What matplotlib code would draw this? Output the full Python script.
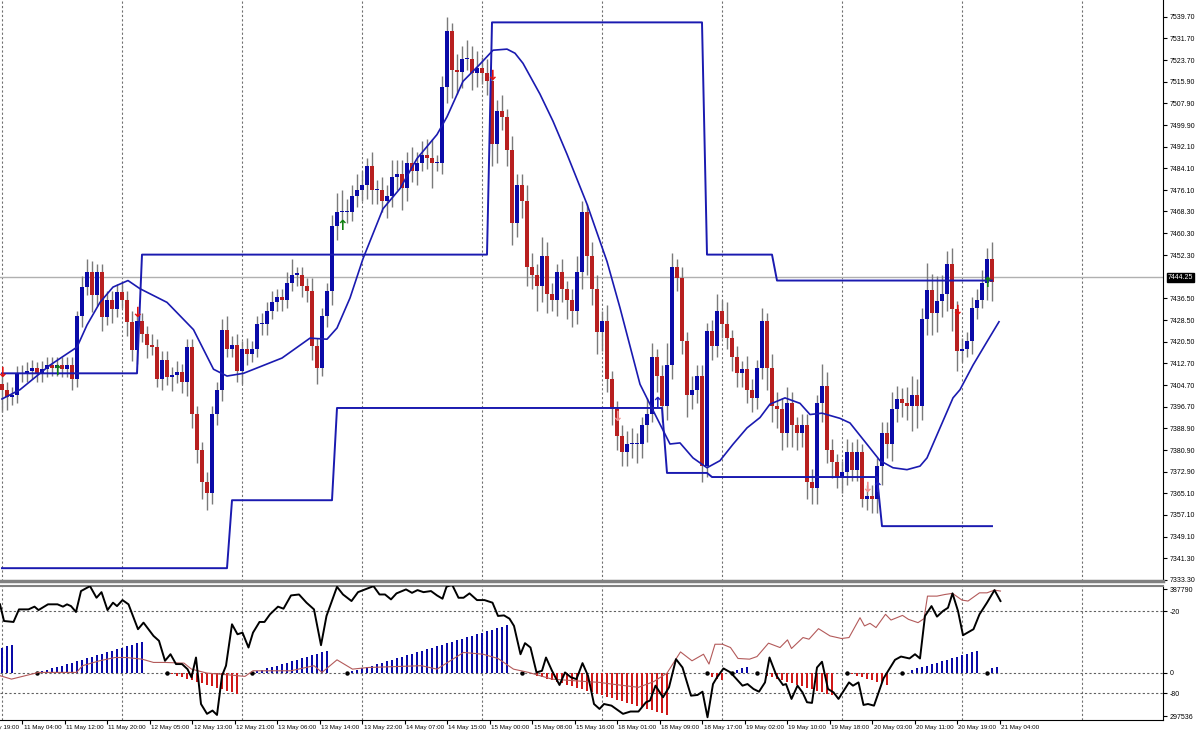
import numpy as np
import matplotlib
matplotlib.use("Agg")
import matplotlib.pyplot as plt
import matplotlib.transforms as mtransforms

plt.rcParams["font.family"] = ["Liberation Sans", "DejaVu Sans"]

# ---- price data (hourly bars, index 0..198) ----
closes = [
    7403, 7400.5, 7401, 7408.7, 7409, 7410, 7411, 7409, 7410.5, 7412,
    7411, 7412, 7410.5, 7412, 7407, 7430, 7440.6, 7446, 7437.6, 7446,
    7429.6, 7436, 7432.6, 7438.8, 7436, 7427.8, 7417.5, 7428, 7423.5, 7419.5,
    7418.7, 7407, 7414, 7407.6, 7408.4, 7409.5, 7405.8, 7418.6, 7394, 7381,
    7369, 7365, 7394, 7403, 7425, 7418, 7419.5, 7410, 7418, 7416,
    7418, 7427, 7427, 7432, 7435, 7437, 7436, 7442, 7445, 7445,
    7441, 7439, 7419, 7411, 7430, 7439, 7463, 7468, 7468, 7468,
    7474, 7476, 7478, 7485, 7476, 7476, 7472, 7474, 7481, 7482,
    7477, 7486, 7483, 7486, 7489, 7488, 7486,
    7486, 7514, 7534.5, 7520, 7519.5, 7524, 7524, 7519, 7521, 7519,
    7516, 7493, 7505, 7503, 7491, 7464, 7478, 7472, 7448,
    7445, 7441, 7452, 7438, 7436, 7446, 7440, 7436, 7432, 7446,
    7468, 7452, 7440, 7424,
    7428, 7407, 7396, 7386, 7380, 7383, 7383, 7383, 7390, 7394,
    7415, 7408, 7397, 7412, 7448, 7444, 7421, 7401, 7403, 7408,
    7375, 7424.5, 7419, 7432, 7427, 7422, 7415, 7409, 7410.5, 7403,
    7400, 7411, 7428, 7411, 7397, 7396, 7387, 7398,
    7390, 7387, 7390,
    7369, 7367, 7398, 7404.5, 7381, 7376.5, 7371, 7373, 7380, 7373.5,
    7380, 7363, 7364, 7363, 7375, 7387, 7383, 7396, 7399.5, 7398,
    7397, 7401, 7397, 7429, 7439.5, 7431, 7435.5, 7438, 7449, 7432.5,
    7417, 7418, 7421, 7433, 7436, 7442, 7451, 7442.5,
]
first_open = 7405
wick_up = [
    4, 3, 3, 3, 3, 3, 3, 2, 3, 3, 3, 3, 3, 3, 3, 2, 4, 5, 4, 3,
    3, 3, 3, 3, 4, 3, 4, 3, 3, 3, 4, 3, 3, 3, 3, 4, 3, 3, 3, 3,
    3, 4, 3, 3, 4, 5, 3, 4, 3, 4, 3, 3, 4, 3, 4, 3, 3, 4, 6, 3,
    3, 3, 5, 3, 3, 3, 4, 7, 8, 5, 4, 6, 5, 3, 5, 4, 5, 4, 6, 5,
    5, 4, 6, 4, 5, 6, 7, 3, 4, 5, 3, 6, 5, 7, 5, 6, 4, 5, 3, 4,
    6, 3, 5, 4, 4, 6, 5, 4, 7, 5, 4, 3, 5, 3, 4, 6, 4, 3, 5, 5,
    4, 6, 3, 3, 4, 5, 6, 4, 3, 6, 5, 3, 4, 8, 5, 3, 4, 3, 5, 4,
    4, 3, 4, 6, 4, 8, 3, 4, 3, 5, 4, 3, 5, 3, 5, 5, 4, 6, 4, 3,
    4, 4, 5, 3, 8, 5, 4, 3, 4, 5, 4, 5, 3, 4, 4, 3, 4, 4, 6, 5,
    4, 6, 7, 6, 4, 10, 6, 9, 7, 5, 6, 3, 4, 3, 4, 4, 5, 4, 6,
]
wick_dn = [
    8, 5, 3, 3, 3, 3, 3, 3, 3, 3, 3, 3, 3, 3, 4, 3, 4, 3, 6, 4,
    5, 3, 5, 3, 3, 5, 4, 5, 3, 5, 3, 3, 4, 3, 5, 3, 4, 5, 5, 5,
    6, 6, 4, 4, 4, 3, 3, 4, 5, 4, 3, 3, 4, 4, 3, 3, 4, 3, 3, 4,
    4, 4, 5, 6, 3, 4, 5, 5, 4, 4, 3, 4, 4, 5, 5, 5, 4, 6, 4, 5,
    8, 5, 4, 5, 3, 4, 9, 3, 4, 6, 10, 8, 6, 4, 6, 5, 4, 5, 8, 7,
    5, 6, 8, 5, 6, 7, 5, 9, 6, 7, 4, 6, 5, 7, 6, 5, 6, 7, 6, 8,
    7, 5, 6, 5, 5, 5, 5, 7, 5, 6, 3, 6, 6, 5, 5, 5, 5, 8, 5, 5,
    6, 4, 5, 4, 5, 4, 5, 5, 5, 5, 5, 4, 4, 8, 6, 7, 6, 5, 8, 6,
    5, 6, 6, 6, 7, 5, 6, 4, 6, 5, 4, 4, 3, 4, 5, 5, 7, 5, 6, 5,
    5, 5, 9, 8, 5, 6, 8, 7, 6, 6, 8, 7, 4, 3, 5, 4, 3, 6, 7,
]

# moving average line (bar, price)
ma_bar = [0, 3.6, 9.6, 15, 17, 19.6, 22.2, 25.2, 27.6, 33, 38.3, 42.3, 45, 48.3, 56, 61.6, 65,
          67, 69.6, 72.2, 76.2, 79.6, 83, 87, 89, 92.2, 95.6, 98.2, 101, 102.6, 104.2, 107.6,
          110.2, 113, 117, 121, 123.6, 127.6, 130.6, 133.6, 135.6, 138.2, 141, 143.6, 146.2,
          149, 151.6, 153.6, 156.6, 159.6, 161.6, 164, 167.6, 169.6, 173, 175.6, 178.2, 181,
          183.6, 185, 187.6, 190.2, 191.6, 194.2, 197, 199.4]
ma_val = [7399.6, 7403, 7412, 7418.6, 7426.7, 7435, 7440.6, 7443, 7440, 7435, 7425, 7410.5,
          7408, 7409, 7414.6, 7421.9, 7421.5, 7425.6, 7436.6, 7451, 7469.3, 7476.7, 7487.7,
          7496.5, 7503, 7516, 7522.3, 7527.4, 7527.8, 7526.3, 7522.6, 7511.3, 7501.4, 7489.3,
          7471, 7450, 7433, 7405, 7394, 7383.1, 7383.5, 7378, 7374.4, 7377, 7383, 7389, 7392.8,
          7397.7, 7400, 7398, 7393.9, 7394.4, 7392.5, 7390.8, 7383, 7377, 7374.4, 7373.7, 7375,
          7378, 7389, 7400, 7403, 7412, 7420.6, 7427.9]

# channel step levels: (first bar, last bar, level)
upper_steps = [(0, 27, 7409), (28, 97, 7452.5), (98, 140, 7537.6), (141, 154, 7452.5), (155, 198, 7443)]
lower_steps = [(0, 45, 7337.6), (46, 66, 7362.5), (67, 132, 7396.3), (133, 141, 7372.5),
               (142, 175, 7371), (176, 198, 7353)]

# signal arrows: (bar, price, symbol, colour)
arrows = [(0, 7409, "↓", "#e01010"), (27, 7431, "↓", "#e01010"), (98, 7518, "↓", "#e01010"),
          (123, 7393, "↓", "#f09090"), (173, 7367, "↓", "#f09090"), (191, 7432, "↓", "#e01010"),
          (11, 7410, "↑", "#108010"), (68, 7463, "↑", "#108010"), (197, 7442, "↑", "#108010"),
          (131, 7398, "↑", "#2020c0"), (175, 7367, "↑", "#2020c0")]

price_ticks = [7539.70, 7531.70, 7523.70, 7515.90, 7507.90, 7499.90, 7492.10, 7484.10, 7476.10,
               7468.30, 7460.30, 7452.30, 7436.50, 7428.50, 7420.50, 7412.70, 7404.70, 7396.70,
               7388.90, 7380.90, 7372.90, 7365.10, 7357.10, 7349.10, 7341.30, 7333.30]
last_price = 7444.25

# ---- oscillator panel ----
wpr_bar = [-0.4, 0.4, 2.3, 3.4, 5.3, 6.5, 7.3, 9.2, 11.1, 12.2, 13.0, 13.8, 14.8, 15.8, 17.6, 18.9,
           19.9, 21.1, 22.2, 23.0, 24.1, 25.3, 27.2, 28.3, 30.3, 31.4, 32.6, 33.7, 34.8, 36.0,
           37.1, 37.9, 38.8, 39.8, 41.0, 42.1, 43.0, 44.0, 44.8, 46.0, 47.1, 48.1, 49.3, 50.2,
           51.5, 52.5, 53.6, 55.2, 56.3, 57.8, 59.4, 60.9, 62.4, 63.8, 64.9, 67.0, 68.2, 69.9,
           71.2, 74.3, 75.5, 76.6, 77.8, 78.9, 80.8, 82.0, 83.1, 84.3, 85.8, 87.0, 88.1, 88.9,
           90.0, 91.3, 92.3, 93.5, 95.0, 96.5, 98.1, 99.2, 100.4, 101.5, 102.4, 103.7, 104.6,
           105.7, 106.9, 108.0, 108.8, 110.0, 111.5, 112.6, 113.8, 114.9, 116.1, 117.2, 118.4,
           119.5, 120.4, 121.9, 124.2, 125.7, 127.3, 128.8, 129.6, 130.7, 132.2, 133.4, 134.8,
           136.1, 137.8, 139.1, 140.1, 141.1, 142.2, 143.0, 144.3, 145.7, 148.1, 149.1, 150.3,
           151.4, 152.6, 153.5, 154.9, 156.2, 156.8, 157.9, 159.1, 160.1, 161.0, 162.0, 163.0,
           164.0, 165.2, 166.3, 167.3, 169.4, 170.2, 171.3, 172.3, 173.2, 174.4, 176.3, 178.6,
           179.8, 181.5, 182.6, 183.6, 184.6, 185.9, 187.0, 188.2, 189.2, 190.1, 191.2, 192.2,
           194.3, 195.5, 197.0, 198.5, 199.7]
wpr_val = [-15.1, -27.3, -28.0, -18.8, -18.8, -16.8, -19.3, -15.1, -15.1, -16.8, -15.1, -16.4,
           -20.7, -5.4, -1.8, -10.3, -6.2, -19.3, -13.9, -16.4, -12.0, -15.1, -33.3, -28.5,
           -38.2, -41.8, -56.4, -51.6, -58.8, -58.8, -62.5, -68.5, -54.0, -88.0, -95.2, -92.8,
           -96.0, -67.3, -60.0, -29.7, -37.0, -35.8, -46.7, -35.8, -28.0, -28.0, -22.4, -16.8,
           -18.3, -8.6, -7.9, -13.9, -18.8, -45.0, -23.6, -2.3, -7.9, -12.7, -6.2, -1.8, -7.9,
           -7.9, -11.5, -7.1, -4.2, -6.7, -4.7, -6.2, -5.4, -8.6, -11.0, -2.3, -0.6, -10.3,
           -10.3, -7.1, -12.0, -12.0, -13.9, -23.6, -23.2, -25.6, -30.9, -51.6, -43.5, -46.7,
           -64.9, -63.7, -54.0, -63.7, -74.1, -64.9, -68.5, -69.8, -58.1, -67.3, -88.0, -91.6,
           -88.0, -89.2, -95.2, -93.5, -93.5, -86.7, -85.5, -74.6, -83.1, -75.8, -55.2, -61.3,
           -81.9, -81.4, -79.0, -97.7, -73.4, -68.5, -62.0, -64.9, -74.6, -73.4, -77.0, -79.0,
           -72.2, -54.0, -67.3, -74.1, -73.4, -84.3, -74.6, -79.5, -86.7, -87.2, -61.3, -57.1,
           -77.0, -79.5, -84.3, -72.2, -74.6, -72.2, -88.7, -88.0, -89.2, -69.3, -55.7, -53.3,
           -54.7, -51.6, -54.7, -23.6, -16.4, -24.1, -20.0, -17.6, -7.1, -20.0, -37.7, -33.3,
           -22.4, -13.9, -4.7, -12.7]

sig_bar = [-0.4, 1.9, 7.3, 14.9, 16.1, 19.5, 22.6, 24.9, 28, 30.3, 32.6, 36.4, 37.9, 41, 45.6,
           48.6, 50.2, 57.8, 62.4, 64, 67, 70.1, 73.2, 83.9, 87, 92.3, 96.2, 99.2, 102.3, 105.3,
           110, 114.5, 119.5, 121.9, 127.3, 130.3, 133, 135.7, 138, 140.3, 141.4, 142.6, 144.1,
           145.7, 147.2, 149.5, 151, 153.3, 155.6, 157.1, 157.9, 160.2, 161.4, 163.3, 165.6,
           167.9, 169.4, 171.6, 172.5, 173.6, 174.8, 176.7, 177.8, 180.1, 181.3, 183.2, 184.4,
           185.1, 187, 188.6, 190.1, 192, 193.2, 195.5, 197, 198.5, 199.7]
sig_val = [-67.3, -69.8, -64.9, -64.9, -60, -56.4, -54, -54, -55.2, -57.6, -57.6, -58.1, -62.5,
           -65.4, -66.8, -67.8, -63.7, -63.7, -60, -64.9, -55.7, -62.5, -61.3, -60, -62.5, -50.3,
           -51.6, -54.7, -62.5, -64.9, -69.8, -71, -72.2, -73.4, -75.8, -71.7, -65.4, -49.9,
           -56.4, -51.6, -58.8, -44.3, -44.3, -46.7, -54.7, -55.2, -53.3, -43.5, -46.7, -41.1,
           -47.4, -39.4, -40.6, -32.9, -38.2, -40.1, -39.4, -24.9, -30.9, -29, -32.1, -22.4,
           -26.6, -23.2, -26.1, -28.5, -25.6, -9.1, -9.1, -7.9, -7.1, -12, -12.7, -6.7, -6.7,
           -4.7, -5.4]

# histogram runs: (first bar, last bar, direction, count at first bar)
hist_runs = [(0, 2, 1, 17), (8, 28, 1, 1), (34, 47, -1, 1), (51, 65, 1, 1), (70, 101, 1, 1),
             (106, 133, -1, 1), (142, 144, -1, 3), (147, 149, 1, 2), (153, 166, -1, 2),
             (170, 177, -1, 1), (182, 195, 1, 2), (198, 199, 1, 3)]
hist_dots = [7, 33, 50, 69, 104, 141, 146, 151, 169, 180, 197]

time_labels = ["10 May 19:00", "11 May 04:00", "11 May 12:00", "11 May 20:00", "12 May 05:00",
               "12 May 13:00", "12 May 21:00", "13 May 06:00", "13 May 14:00", "13 May 22:00",
               "14 May 07:00", "14 May 15:00", "15 May 00:00", "15 May 08:00", "15 May 16:00",
               "18 May 01:00", "18 May 09:00", "18 May 17:00", "19 May 02:00", "19 May 10:00",
               "19 May 18:00", "20 May 03:00", "20 May 11:00", "20 May 19:00", "21 May 04:00"]

BULL = "#0a0aa8"
BEAR = "#b82020"
XMIN, XMAX = -0.4, 232.2
FS = 5.0

fig = plt.figure(figsize=(12, 7.34), dpi=100)
ax = fig.add_axes([0, 153 / 734, 1163 / 1200, 581 / 734])
ax2 = fig.add_axes([0, 14 / 734, 1163 / 1200, 134 / 734])

# ---- candles ----
c = np.array(closes)
o = np.concatenate([[first_open], c[:-1]])
hi = np.maximum(o, c) + np.array(wick_up)
lo = np.minimum(o, c) - np.array(wick_dn)
x = np.arange(len(c))
ax.vlines(x, lo, hi, color="#7a7a7a", lw=1.0, zorder=2)
up = c >= o
body = np.abs(c - o)
body = np.where(body < 0.6, 0.6, body)
ax.bar(x[up], body[up], bottom=np.minimum(o, c)[up], width=0.62, color=BULL, zorder=3)
ax.bar(x[~up], body[~up], bottom=np.minimum(o, c)[~up], width=0.62, color=BEAR, zorder=3)

# ---- channel steps and MA ----
for steps in (upper_steps, lower_steps):
    lv = np.full(len(c), np.nan)
    for a, b, v in steps:
        lv[a:b + 1] = v
    ax.plot(x, lv, color="#1a1ab0", lw=1.4, zorder=4)
ax.plot(ma_bar, ma_val, color="#1a1ab0", lw=1.2, zorder=4)

for b, p, s, col in arrows:
    ax.text(b, p, s, color=col, fontsize=10, fontweight="bold", ha="center", va="center",
            zorder=5, family="DejaVu Sans", clip_on=True)

ax.axhline(last_price, color="#b0b0b0", lw=1.0, zorder=1)

ax.set_xlim(XMIN, XMAX)
ax.set_ylim(7332.9, 7545.8)
ax.yaxis.tick_right()
ax.set_yticks(price_ticks)
ax.set_yticklabels([f"{t:.2f}" for t in price_ticks], fontsize=FS)
ax.tick_params(axis="y", length=3, pad=2)
ax.text(1.004, (last_price - 7332.9) / (7545.8 - 7332.9), f"{last_price:.2f}", transform=ax.transAxes,
        fontsize=FS, color="white", va="center", ha="left",
        bbox=dict(boxstyle="square,pad=0.15", fc="black", ec="black"))
ax.set_xticks([])

# ---- oscillator ----
for a, b, d, k0 in hist_runs:
    bars = np.arange(a, b + 1)
    h = (np.arange(len(bars)) + k0) * 1.09 * d
    ax2.bar(bars, h, bottom=-65.3, width=0.45, color=BULL if d > 0 else "#d01818", zorder=3)
ax2.plot(hist_dots, [-65.3] * len(hist_dots), "o", color="black", ms=2.2, zorder=4)
ax2.plot(sig_bar, sig_val, color="#b35a5a", lw=0.8, zorder=4)
ax2.plot(wpr_bar, wpr_val, color="black", lw=1.4, zorder=5)
for lvl in (-20, -65.3, -80):
    ax2.axhline(lvl, color="#606060", lw=0.8, ls=(0, (2, 2)), zorder=1)
ax2.set_xlim(XMIN, XMAX)
ax2.set_ylim(-99.7, -1.7)
ax2.yaxis.tick_right()
ax2.set_yticks([-3.9, -20, -65.3, -80, -96.8])
ax2.set_yticklabels(["387790", "-20", "0", "-80", "297536"], fontsize=FS)
ax2.tick_params(axis="y", length=3, pad=2)

# time axis labels (left aligned at their tick, as the terminal draws them)
lab_pos = [4 + 8.5 * (k - 1) for k in range(len(time_labels))]
ax2.set_xticks([p for p in lab_pos if p > XMIN])
ax2.set_xticklabels([])
ax2.tick_params(axis="x", length=3)
trans = mtransforms.blended_transform_factory(ax2.transData, ax2.transAxes)
for p, t in zip(lab_pos, time_labels):
    ax2.text(p + 0.3, -0.035, t, transform=trans, fontsize=4.5, ha="left", va="top", clip_on=False)

for a in (ax, ax2):
    for g in range(0, 240, 24):
        a.axvline(g, color="#707070", lw=0.8, ls=(0, (2, 2)), zorder=0)
    for s in ("left", "top"):
        a.spines[s].set_visible(False)
    a.spines["right"].set_color("black")
    a.spines["bottom"].set_color("black")
ax.spines["bottom"].set_color("#808080")
ax.spines["bottom"].set_linewidth(2.5)
ax2.spines["top"].set_visible(True)
ax2.spines["top"].set_color("#808080")
ax2.spines["top"].set_linewidth(1.5)

fig.savefig("out.png", dpi=100, facecolor="white")
